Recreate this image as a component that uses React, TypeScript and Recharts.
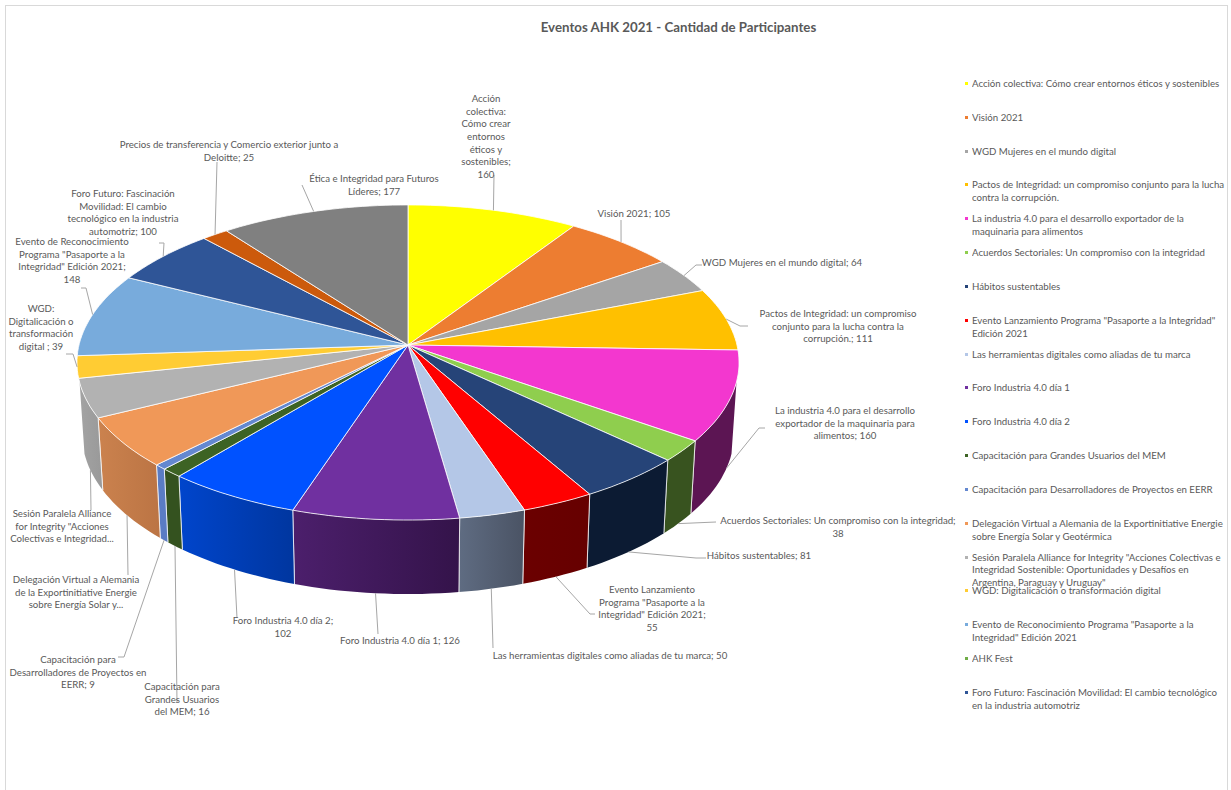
import React from 'react';
import { PieChart, Pie, Legend } from 'recharts';

const FONT = 'Lato, sans-serif';
const TEXT = '#595959';

const CATEGORIES = [
  'Acción colectiva: Cómo crear entornos éticos y sostenibles',
  'Visión 2021',
  'WGD Mujeres en el mundo digital',
  'Pactos de Integridad: un compromiso conjunto para la lucha contra la corrupción.',
  'La industria 4.0 para el desarrollo exportador de la maquinaria para alimentos',
  'Acuerdos Sectoriales: Un compromiso con la integridad',
  'Hábitos sustentables',
  'Evento Lanzamiento Programa "Pasaporte a la Integridad" Edición 2021',
  'Las herramientas digitales como aliadas de tu marca',
  'Foro Industria 4.0 día 1',
  'Foro Industria 4.0 día 2',
  'Capacitación para Grandes Usuarios del MEM',
  'Capacitación para Desarrolladores de Proyectos en EERR',
  'Delegación Virtual a Alemania de la Exportinitiative Energie sobre Energía Solar y Geotérmica',
  'Sesión Paralela Alliance for Integrity "Acciones Colectivas e Integridad Sostenible: Oportunidades y Desafíos en Argentina, Paraguay y Uruguay"',
  'WGD: Digitalicación o transformación digital',
  'Evento de Reconocimiento Programa "Pasaporte a la Integridad" Edición 2021',
  'AHK Fest',
  'Foro Futuro: Fascinación Movilidad: El cambio tecnológico en la industria automotriz',
  'Precios de transferencia y Comercio exterior junto a Deloitte',
  'Ética e Integridad para Futuros Líderes',
];

const VALUES = [160, 105, 64, 111, 160, 38, 81, 55, 50, 126, 102, 16, 9, 90, 69, 39, 148, 0, 100, 25, 177];

const COLORS = [
  '#FFFF00', '#ED7D31', '#A5A5A5', '#FFC000', '#F337CF', '#8FCE4E', '#264478',
  '#FF0000', '#B4C7E7', '#7030A0', '#0052FF', '#3D6324', '#6488D0', '#F09858',
  '#B2B2B2', '#FFCC33', '#78ABDC', '#70AD47', '#2F5597', '#CC5A0C', '#808080',
];

// side wall gradient, left to right
const WALL_LIGHT = [
  '#808000', '#77401A', '#535353', '#806000', '#5C1553', '#38531F', '#0C1B33',
  '#6B0000', '#5F6C82', '#4C1F6C', '#0045CC', '#34521F', '#5A7CC4', '#CB824E',
  '#A3A3A3', '#806619', '#3C566E', '#385723', '#18294B', '#662D06', '#404040',
];
const WALL_DARK = [
  '#808000', '#77401A', '#535353', '#806000', '#5C1553', '#38531F', '#0C1B33',
  '#660000', '#4A5364', '#34134A', '#00369F', '#34521F', '#5A7CC4', '#BB7444',
  '#999999', '#806619', '#3C566E', '#385723', '#18294B', '#662D06', '#404040',
];

// label text, | breaks the line and {v} is the slice value
const LABELS = [
  'Acción|colectiva:|Cómo crear|entornos|éticos y|sostenibles;|{v}',
  'Visión 2021; {v}',
  'WGD Mujeres en el mundo digital; {v}',
  'Pactos de Integridad: un compromiso|conjunto para la lucha contra la|corrupción.; {v}',
  'La industria 4.0 para el desarrollo|exportador de la maquinaria para|alimentos; {v}',
  'Acuerdos Sectoriales: Un compromiso con la integridad;|{v}',
  'Hábitos sustentables; {v}',
  'Evento Lanzamiento|Programa "Pasaporte a la|Integridad" Edición 2021;|{v}',
  'Las herramientas digitales como aliadas de tu marca; {v}',
  'Foro Industria 4.0 día 1; {v}',
  'Foro Industria 4.0 día 2;|{v}',
  'Capacitación para|Grandes Usuarios|del MEM; {v}',
  'Capacitación para|Desarrolladores de Proyectos en|EERR; {v}',
  'Delegación Virtual a Alemania|de la Exportinitiative Energie|sobre Energía Solar y...',
  'Sesión Paralela Alliance|for Integrity "Acciones|Colectivas e Integridad...',
  'WGD:|Digitalicación o|transformación|digital ; {v}',
  'Evento de Reconocimiento|Programa "Pasaporte a la|Integridad" Edición 2021;|{v}',
  '',
  'Foro Futuro: Fascinación|Movilidad: El cambio|tecnológico en la industria|automotriz; {v}',
  'Precios de transferencia y Comercio exterior junto a|Deloitte; {v}',
  'Ética e Integridad para Futuros|Líderes; {v}',
];

// label placement: centre x and centre y of the first line
const LABEL_X = [486, 634, 782, 838, 845, 838, 759, 652, 610, 400, 283, 182, 78, 76, 62, 41, 72, 0, 123, 229, 374];
const LABEL_Y = [98, 213, 262, 313, 410, 520, 555, 589, 655, 640, 620, 686, 659, 579, 513, 308, 241, 0, 193, 144, 178];

// leader elbows after the slice anchor, as x,y pairs
const LEADERS = [
  [[494, 175]],
  [[621, 220]],
  [[696, 265], [702, 265]],
  [[740, 326], [748, 326]],
  [[759, 428], [765, 428]],
  [[716, 522]],
  [[696, 558], [706, 558]],
  [[590, 614], [595, 614]],
  [[493, 648]],
  [[378, 634]],
  [[237, 618]],
  [[177, 703]],
  [[124, 657], [118, 657]],
  [[128, 575]],
  [[91, 510]],
  [[73, 354], [66, 354]],
  [[86, 288], [81, 288]],
  [],
  [[164, 243], [159, 243]],
  [[217, 162]],
  [[302, 185]],
];
// anchored on the bottom edge of the wall instead of the top surface
const ANCHOR_ON_WALL = [false, false, false, false, true, true, true, true, true, true, true, true, true, true, true, false, false, false, false, false, false];

const LEGEND_COUNT = 19;

const tableData = CATEGORIES.map((name, i) => ({ name, value: VALUES[i], fill: COLORS[i] }));

const PIE_CX = 408;
const PIE_CY = 345;
const PIE_R = 329;
const FLATTEN = 0.473; // vertical squash of the disc
const PERSPECTIVE = 0.111;
const WALL_SHRINK = 0.985;
const WALL_DROP = 71;
const WALL_MIN_V = 0.215;
const TEXT_SQUEEZE = 0.93; // Lato runs wider than the chart's font

// pie angle (degrees, recharts convention) to a point on the tilted disc
function project(cx: number, cy: number, r: number, angle: number) {
  const t = ((90 - angle) * Math.PI) / 180;
  const u = Math.sin(t);
  const v = -Math.cos(t);
  const w = 1 - PERSPECTIVE * v;
  return { x: cx + (r * u) / w, y: cy + (r * FLATTEN * v) / w, v };
}

function wallFoot(cx: number, p: { x: number; y: number; v: number }) {
  return { x: cx + (p.x - cx) * WALL_SHRINK, y: p.y + WALL_DROP + 3 * p.v };
}

function arcAngles(start: number, end: number) {
  const n = Math.max(2, Math.ceil(Math.abs(end - start) / 1.5));
  return Array.from({ length: n + 1 }, (_, i) => start + ((end - start) * i) / n);
}

function TopSlice(props: any) {
  const { cx, cy, outerRadius, startAngle, endAngle, fill } = props;
  if (startAngle === endAngle) return null;
  const pts = arcAngles(startAngle, endAngle).map((a) => project(cx, cy, outerRadius, a));
  const d = `M${cx},${cy}` + pts.map((p) => `L${p.x.toFixed(1)},${p.y.toFixed(1)}`).join('') + 'Z';
  return <path d={d} fill={fill} stroke="#fff" strokeOpacity={0.8} strokeWidth={1} strokeLinejoin="round" />;
}

function WallSlice(props: any) {
  const { cx, cy, outerRadius, startAngle, endAngle, name } = props;
  const i = CATEGORIES.indexOf(name);
  const front = arcAngles(startAngle, endAngle)
    .map((a) => project(cx, cy, outerRadius, a))
    .filter((p) => p.v >= WALL_MIN_V);
  if (startAngle === endAngle || front.length < 2) return null;
  const feet = front.map((p) => wallFoot(cx, p));
  const outline = [...front, ...feet.slice().reverse()];
  const d = 'M' + outline.map((p) => `${p.x.toFixed(1)},${p.y.toFixed(1)}`).join('L') + 'Z';
  const last = front.length - 1;
  const hasStartEdge = project(cx, cy, outerRadius, startAngle).v >= WALL_MIN_V;
  const hasEndEdge = project(cx, cy, outerRadius, endAngle).v >= WALL_MIN_V;
  return (
    <g>
      <defs>
        <linearGradient id={`wall-${i}`} x1="0" y1="0" x2="1" y2="0">
          <stop offset="0" stopColor={WALL_LIGHT[i]} />
          <stop offset="1" stopColor={WALL_DARK[i]} />
        </linearGradient>
      </defs>
      <path d={d} fill={`url(#wall-${i})`} />
      {hasStartEdge && <line x1={front[0].x} y1={front[0].y} x2={feet[0].x} y2={feet[0].y} stroke="#fff" strokeOpacity={0.75} />}
      {hasEndEdge && <line x1={front[last].x} y1={front[last].y} x2={feet[last].x} y2={feet[last].y} stroke="#fff" strokeOpacity={0.75} />}
    </g>
  );
}

function SliceLabel(props: any) {
  const { cx, cy, outerRadius, midAngle, name, value } = props;
  const i = CATEGORIES.indexOf(name);
  if (!LABELS[i]) return null;
  let start: { x: number; y: number; v: number } = project(cx, cy, outerRadius, midAngle);
  if (ANCHOR_ON_WALL[i]) start = { ...wallFoot(cx, start), v: start.v };
  const points = [[start.x, start.y], ...LEADERS[i]].map((p) => p.join(',')).join(' ');
  const lines = LABELS[i].replace('{v}', String(value)).split('|');
  return (
    <g>
      <polyline points={points} fill="none" stroke="#A6A6A6" strokeWidth={1} />
      <text
        transform={`translate(${LABEL_X[i]},0) scale(${TEXT_SQUEEZE},1)`}
        textAnchor="middle"
        fontFamily={FONT}
        fontSize={10.4}
        fill={TEXT}
      >
        {lines.map((line, n) => (
          <tspan key={n} x={0} y={LABEL_Y[i] + 4 + n * 12.7}>{line}</tspan>
        ))}
      </text>
    </g>
  );
}

function LegendRows() {
  return (
    <div style={{ position: 'relative', width: 262, height: 640 }}>
      {CATEGORIES.slice(0, LEGEND_COUNT).map((name, i) => (
        <div key={name} style={{ position: 'absolute', left: 0, top: i * 33.83, width: 262 }}>
          <span style={{ position: 'absolute', left: 0, top: 5, width: 3, height: 3, background: COLORS[i] }} />
          <div
            style={{
              marginLeft: 7,
              width: 256 / TEXT_SQUEEZE,
              transform: `scaleX(${TEXT_SQUEEZE})`,
              transformOrigin: 'left top',
              lineHeight: '12.8px',
              fontFamily: FONT,
              fontSize: 10.4,
              color: TEXT,
            }}
          >
            {name}
          </div>
        </div>
      ))}
    </div>
  );
}

export default function App() {
  return (
    <div style={{ position: 'absolute', left: 0, top: 0, width: 1231, height: 790, background: '#fff', overflow: 'hidden' }}>
      <div style={{ position: 'absolute', left: 5, top: 5, width: 1221, height: 800, border: '1px solid #D9D9D9' }} />
      <div
        style={{
          position: 'absolute',
          left: 0,
          top: 18,
          width: 1357,
          textAlign: 'center',
          fontFamily: FONT,
          fontWeight: 700,
          fontSize: 14,
          color: TEXT,
          transform: 'scaleX(0.948)',
          transformOrigin: '678.5px 0',
        }}
      >
        Eventos AHK 2021 - Cantidad de Participantes
      </div>
      <PieChart width={1231} height={790} margin={{ top: 0, right: 0, bottom: 0, left: 0 }}>
        <Pie
          data={tableData}
          dataKey="value"
          nameKey="name"
          cx={PIE_CX}
          cy={PIE_CY}
          outerRadius={PIE_R}
          startAngle={90}
          endAngle={-270}
          shape={WallSlice}
          legendType="none"
          isAnimationActive={false}
        />
        <Pie
          data={tableData}
          dataKey="value"
          nameKey="name"
          cx={PIE_CX}
          cy={PIE_CY}
          outerRadius={PIE_R}
          startAngle={90}
          endAngle={-270}
          shape={TopSlice}
          label={SliceLabel}
          labelLine={false}
          isAnimationActive={false}
        />
        <Legend
          content={LegendRows}
          wrapperStyle={{ position: 'absolute', left: 965, top: 77, width: 262, height: 640, bottom: 'auto' }}
        />
      </PieChart>
    </div>
  );
}
